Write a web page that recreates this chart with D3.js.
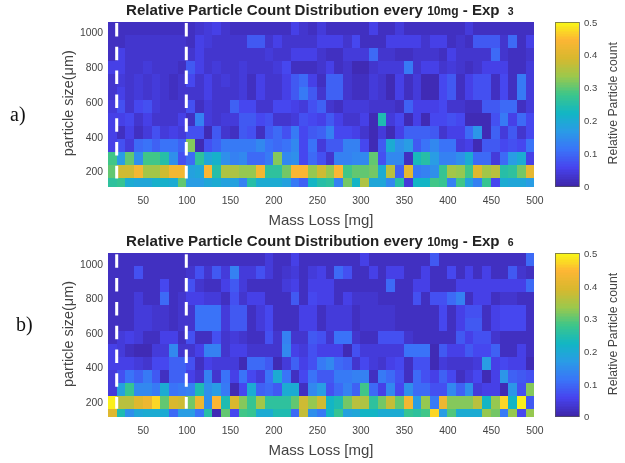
<!DOCTYPE html>
<html>
<head>
<meta charset="utf-8">
<script src="https://cdn.jsdelivr.net/npm/d3@7"></script>
<style>
  body { margin: 0; background: #fff; }
  svg { display: block; filter: blur(0.5px); }
  rect { shape-rendering: crispEdges; }
  text { font-family: "Liberation Sans", Arial, sans-serif; fill: #444; }
  .title, .title tspan { font-weight: bold; fill: #222; }
</style>
</head>
<body>
<div id="chart"></div>
<script>
// Left edge of every 10mg bin
const massBins = d3.range(10, 500, 10);
const massTicks = [50, 100, 150, 200, 250, 300, 350, 400, 450, 500];
const sizeTicks = [200, 400, 600, 800, 1000];
const barTicks = [0, 0.1, 0.2, 0.3, 0.4, 0.5];
const markers = [20, 100];

// Size bin edges, top row first
const sizeEdges = [1061, 986, 911, 836, 761, 686, 611, 536, 461, 386, 311, 236, 161, 114];

const parula = ["#3e26a8", "#4743ee", "#3a74f8", "#2a9be6", "#12b6c4", "#3cc68a", "#9cc84c", "#d8b82e", "#fdb634", "#f9fb15"];

// Relative counts. Rows top to bottom, columns left to right
const exp3 = [
  [.02,.02,.02,.02,.02,.02,.02,.02,.02,.02,.03,.04,.05,.03,.02,.02,.02,.02,.02,.02,.02,.05,.03,.02,.04,.02,.02,.02,.02,.02,.05,.02,.02,.04,.02,.02,.02,.02,.02,.02,.02,.04,.02,.02,.02,.02,.02,.02,.02],
  [.02,.02,.03,.03,.03,.03,.03,.03,.03,.02,.05,.04,.03,.03,.03,.03,.08,.08,.03,.05,.03,.03,.03,.03,.05,.05,.05,.03,.06,.02,.02,.02,.05,.05,.05,.05,.03,.05,.05,.02,.03,.02,.08,.08,.08,.03,.10,.02,.05],
  [.02,.05,.03,.03,.03,.03,.03,.03,.03,.03,.05,.03,.03,.03,.03,.03,.03,.03,.04,.03,.03,.05,.05,.05,.03,.02,.02,.04,.04,.04,.10,.03,.03,.02,.02,.03,.03,.03,.02,.05,.03,.03,.03,.03,.10,.03,.02,.02,.03],
  [.05,.05,.03,.03,.04,.03,.03,.03,.02,.08,.05,.03,.04,.03,.03,.04,.03,.03,.03,.04,.06,.02,.02,.02,.03,.05,.02,.03,.01,.01,.03,.04,.04,.04,.12,.03,.05,.05,.03,.04,.03,.02,.03,.05,.05,.05,.02,.02,.04],
  [.03,.04,.03,.04,.03,.04,.03,.02,.03,.06,.03,.05,.03,.04,.03,.04,.02,.05,.03,.03,.05,.08,.10,.05,.02,.09,.09,.03,.02,.02,.04,.03,.01,.05,.02,.04,.01,.01,.06,.08,.02,.05,.07,.07,.02,.06,.02,.12,.04],
  [.03,.05,.03,.04,.03,.04,.03,.02,.03,.03,.03,.05,.03,.03,.03,.04,.02,.05,.03,.03,.05,.08,.12,.08,.03,.09,.09,.03,.02,.02,.04,.03,.01,.05,.02,.04,.01,.01,.06,.08,.02,.05,.07,.07,.02,.06,.02,.12,.04],
  [.04,.07,.03,.06,.07,.04,.03,.03,.03,.07,.02,.04,.03,.03,.09,.06,.06,.03,.03,.06,.06,.05,.04,.07,.09,.03,.02,.04,.04,.04,.03,.03,.03,.02,.09,.05,.05,.05,.06,.03,.03,.02,.02,.08,.08,.10,.10,.02,.04],
  [.05,.05,.06,.03,.05,.03,.03,.03,.05,.02,.13,.04,.03,.04,.04,.08,.08,.06,.07,.03,.03,.04,.07,.06,.05,.08,.05,.03,.03,.05,.01,.24,.04,.06,.01,.05,.01,.06,.06,.07,.06,.01,.01,.01,.07,.12,.05,.10,.06],
  [.05,.02,.05,.02,.04,.07,.04,.05,.04,.07,.07,.01,.08,.03,.02,.08,.07,.02,.08,.10,.07,.12,.06,.08,.09,.13,.06,.06,.05,.03,.01,.04,.01,.05,.09,.09,.09,.08,.03,.05,.05,.10,.16,.01,.09,.04,.08,.03,.06],
  [.05,.07,.04,.10,.11,.09,.11,.11,.09,.32,.01,.07,.09,.12,.12,.12,.12,.14,.11,.10,.11,.14,.06,.11,.04,.08,.08,.13,.13,.06,.01,.08,.20,.15,.17,.08,.11,.14,.11,.11,.04,.05,.01,.08,.08,.06,.07,.06,.11],
  [.28,.17,.30,.15,.28,.28,.25,.15,.07,.10,.26,.19,.21,.15,.13,.14,.10,.10,.12,.32,.14,.15,.06,.10,.07,.03,.13,.13,.14,.14,.30,.07,.14,.14,.02,.23,.25,.17,.13,.13,.15,.20,.10,.10,.04,.10,.17,.20,.05],
  [.30,.38,.38,.43,.34,.34,.38,.43,.43,.18,.19,.44,.25,.35,.35,.33,.33,.43,.26,.26,.31,.44,.44,.33,.38,.33,.44,.28,.30,.30,.31,.20,.36,.09,.41,.12,.13,.15,.27,.34,.33,.28,.40,.34,.36,.25,.26,.31,.41],
  [.26,.27,.20,.19,.19,.21,.21,.20,.30,.17,.17,.19,.20,.18,.18,.13,.25,.20,.20,.20,.18,.12,.09,.22,.25,.26,.13,.31,.22,.35,.19,.19,.14,.25,.04,.22,.22,.28,.27,.13,.28,.18,.13,.27,.06,.20,.19,.19,.17]
];

const exp6 = [
  [.02,.02,.02,.02,.02,.02,.02,.02,.02,.02,.02,.02,.02,.02,.02,.02,.02,.02,.04,.02,.02,.05,.02,.02,.02,.02,.02,.02,.02,.05,.02,.02,.02,.02,.02,.02,.02,.08,.02,.02,.02,.02,.02,.02,.02,.02,.02,.02,.10],
  [.02,.02,.02,.07,.02,.02,.02,.02,.02,.03,.07,.03,.08,.04,.13,.04,.04,.07,.04,.02,.03,.04,.02,.04,.05,.02,.10,.07,.02,.02,.05,.02,.05,.05,.02,.02,.05,.02,.02,.06,.02,.05,.02,.05,.02,.02,.08,.03,.02],
  [.02,.02,.02,.02,.02,.02,.06,.02,.02,.07,.03,.02,.02,.05,.08,.04,.02,.02,.02,.02,.04,.05,.02,.05,.05,.05,.02,.02,.02,.02,.02,.02,.10,.02,.02,.05,.05,.02,.02,.02,.05,.05,.05,.05,.05,.05,.05,.05,.10],
  [.02,.02,.02,.04,.02,.02,.10,.02,.03,.05,.05,.04,.04,.02,.07,.03,.05,.05,.02,.02,.02,.08,.02,.06,.05,.05,.02,.05,.03,.03,.03,.02,.02,.02,.02,.07,.02,.07,.07,.10,.13,.02,.05,.05,.02,.03,.03,.02,.02],
  [.02,.02,.02,.04,.04,.03,.03,.02,.03,.03,.11,.11,.11,.04,.08,.08,.02,.04,.06,.02,.02,.02,.05,.05,.02,.04,.04,.04,.02,.03,.03,.03,.03,.02,.02,.02,.02,.02,.06,.02,.05,.07,.07,.02,.05,.06,.06,.06,.02],
  [.02,.02,.02,.04,.04,.03,.03,.02,.03,.03,.11,.11,.11,.04,.08,.08,.02,.04,.06,.02,.02,.02,.05,.05,.02,.04,.04,.04,.02,.03,.03,.03,.03,.02,.02,.02,.02,.02,.06,.02,.05,.08,.08,.02,.05,.06,.06,.06,.02],
  [.02,.04,.05,.04,.02,.02,.05,.05,.02,.07,.02,.02,.07,.03,.04,.03,.02,.02,.07,.03,.13,.03,.03,.08,.07,.03,.11,.11,.03,.02,.02,.07,.07,.07,.03,.02,.02,.02,.02,.02,.08,.05,.07,.07,.03,.02,.02,.02,.02],
  [.05,.04,.02,.01,.01,.04,.04,.14,.03,.03,.05,.13,.13,.03,.05,.05,.03,.03,.03,.03,.14,.05,.04,.07,.05,.05,.05,.01,.07,.04,.04,.04,.04,.04,.11,.11,.11,.01,.08,.05,.05,.08,.06,.06,.09,.02,.02,.05,.02],
  [.05,.05,.05,.04,.03,.06,.06,.09,.09,.07,.02,.05,.04,.04,.04,.01,.10,.10,.08,.01,.04,.09,.05,.07,.12,.14,.10,.09,.03,.06,.04,.03,.05,.06,.02,.07,.07,.01,.04,.03,.03,.03,.04,.17,.05,.06,.05,.05,.01],
  [.04,.07,.11,.09,.12,.08,.02,.09,.09,.05,.03,.13,.03,.11,.05,.11,.06,.04,.11,.20,.11,.02,.06,.11,.08,.08,.12,.12,.13,.13,.02,.12,.10,.07,.02,.10,.07,.05,.09,.06,.02,.04,.06,.01,.05,.16,.09,.08,.07],
  [.04,.18,.27,.14,.14,.12,.20,.11,.12,.13,.24,.15,.17,.12,.01,.06,.20,.09,.10,.08,.20,.20,.02,.14,.17,.07,.10,.13,.09,.28,.10,.05,.14,.06,.15,.10,.10,.07,.07,.14,.09,.15,.04,.05,.05,.01,.16,.07,.32],
  [.49,.36,.36,.40,.42,.47,.30,.39,.38,.31,.42,.15,.44,.24,.39,.32,.27,.34,.26,.26,.26,.30,.38,.33,.38,.22,.24,.31,.36,.35,.26,.31,.37,.30,.43,.17,.33,.12,.42,.32,.32,.32,.36,.22,.33,.47,.22,.49,.08],
  [.40,.24,.15,.19,.20,.20,.20,.10,.17,.17,.11,.25,.01,.30,.06,.28,.27,.20,.20,.24,.24,.10,.37,.15,.12,.22,.27,.18,.19,.22,.22,.20,.20,.20,.27,.26,.28,.47,.17,.29,.20,.20,.20,.33,.31,.12,.33,.06,.33]
];

const svg = d3.select("#chart").append("svg").attr("width", 625).attr("height", 463);

const color = d3.scaleLinear()
  .domain(parula.map((d, i) => i * 0.5 / (parula.length - 1)))
  .range(parula);

const drawPanel = (counts, exp, top, bottom, tag) => {
  const xScale = d3.scaleLinear().domain([10, 500]).range([108, 534.3]);
  const yScale = d3.scaleLinear().domain([114, 1061]).range([bottom, top]);

  // Heatmap cells
  counts.forEach((row, r) => {
    svg.append("g")
      .selectAll("rect")
      .data(row)
      .join("rect")
      .attr("x", (d, i) => xScale(massBins[i]))
      .attr("y", yScale(sizeEdges[r]))
      .attr("width", (d, i) => xScale(massBins[i] + 10) - xScale(massBins[i]))
      .attr("height", yScale(sizeEdges[r + 1]) - yScale(sizeEdges[r]))
      .attr("fill", d => color(d));
  });

  // White dashed lines at 20 and 100mg
  svg.append("g")
    .selectAll("line")
    .data(markers)
    .join("line")
    .attr("x1", d => xScale(d))
    .attr("x2", d => xScale(d))
    .attr("y1", top + 1)
    .attr("y2", bottom - 8)
    .attr("stroke", "#fff")
    .attr("stroke-width", 3)
    .attr("stroke-dasharray", "13.5 10.3");

  // Axes
  const xAxis = svg.append("g")
    .attr("transform", `translate(0, ${bottom})`)
    .call(d3.axisBottom(xScale).tickValues(massTicks).tickSize(0).tickPadding(10));
  const yAxis = svg.append("g")
    .attr("transform", "translate(108, 0)")
    .call(d3.axisLeft(yScale).tickValues(sizeTicks).tickFormat(d3.format("d")).tickSize(0).tickPadding(5));
  [xAxis, yAxis].forEach(axis => {
    axis.select(".domain").remove();
    axis.selectAll("text").style("font-size", "10.4px");
  });

  svg.append("text")
    .attr("x", 321)
    .attr("y", bottom + 38)
    .attr("text-anchor", "middle")
    .style("font-size", "15px")
    .text("Mass Loss [mg]");

  svg.append("text")
    .attr("transform", `translate(73, ${(top + bottom) / 2 - 1}) rotate(-90)`)
    .attr("text-anchor", "middle")
    .style("font-size", "14.4px")
    .text("particle size(\u03bcm)");

  // Title, the numbers are set smaller in the original
  const title = svg.append("text")
    .attr("class", "title")
    .attr("x", 126)
    .attr("y", top - 7)
    .style("font-size", "15.1px");
  title.append("tspan").text("Relative Particle Count Distribution every ");
  title.append("tspan").style("font-size", "12px").text("10mg");
  title.append("tspan").text(" - Exp ");
  title.append("tspan").attr("dx", 4).style("font-size", "10.5px").text(exp);

  // Colorbar
  const barScale = d3.scaleLinear().domain([0, 0.5]).range([bottom, top]);
  svg.append("g")
    .selectAll("rect")
    .data(d3.range(0, 0.5, 0.005))
    .join("rect")
    .attr("x", 555)
    .attr("y", d => barScale(d + 0.005))
    .attr("width", 24)
    .attr("height", d => barScale(d) - barScale(d + 0.005) + 0.4)
    .attr("fill", d => color(d));
  svg.append("rect")
    .attr("x", 555)
    .attr("y", top)
    .attr("width", 24)
    .attr("height", bottom - top)
    .attr("fill", "none")
    .attr("stroke", "#555")
    .attr("stroke-width", 0.7);
  const barAxis = svg.append("g")
    .attr("transform", "translate(579, 0)")
    .call(d3.axisRight(barScale).tickValues(barTicks).tickFormat(d3.format("~g")).tickSize(0).tickPadding(5));
  barAxis.select(".domain").remove();
  barAxis.selectAll("text").style("font-size", "9.5px");

  svg.append("text")
    .attr("transform", `translate(617, ${(top + bottom) / 2 - 1}) rotate(-90)`)
    .attr("text-anchor", "middle")
    .style("font-size", "12.3px")
    .text("Relative Particle count");

  // Panel letter
  svg.append("text")
    .attr("x", tag.x)
    .attr("y", tag.y)
    .style("font-family", '"Liberation Serif", serif')
    .style("font-size", "20px")
    .style("fill", "#111")
    .text(tag.label);
};

drawPanel(exp3, "3", 22, 186.5, { label: "a)", x: 10, y: 121 });
drawPanel(exp6, "6", 253.3, 416.7, { label: "b)", x: 16, y: 331 });
</script>
</body>
</html>
